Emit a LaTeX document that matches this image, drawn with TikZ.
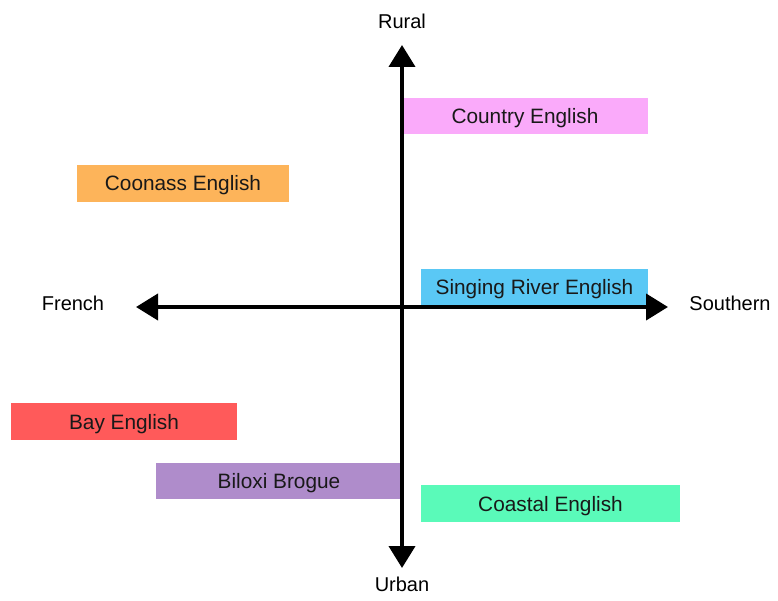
\documentclass[tikz,border=0pt]{standalone}
\usepackage{fontspec}
\setmainfont{Liberation Sans}
\usetikzlibrary{arrows.meta}
\definecolor{cpink}{RGB}{250,170,250}
\definecolor{corange}{RGB}{253,180,90}
\definecolor{cblue}{RGB}{90,200,245}
\definecolor{cred}{RGB}{255,90,90}
\definecolor{cpurple}{RGB}{175,140,203}
\definecolor{cgreen}{RGB}{90,250,185}
\definecolor{ink}{RGB}{25,25,25}
\tikzset{
  box/.style={fill=#1, draw=none, inner sep=0pt, text=ink,
    text height=15pt, text depth=0pt,
    font=\fontsize{20.8pt}{24pt}\selectfont},
  lbl/.style={inner sep=0pt, text=black, text height=14.5pt, text depth=0pt,
    font=\fontsize{20pt}{24pt}\selectfont},
  axis/.style={line width=4pt, black,
    {Triangle[width=26pt,length=22pt]}-{Triangle[width=26pt,length=22pt]}}
}
\begin{document}
\begin{tikzpicture}[x=1pt,y=-1pt]
\useasboundingbox (0,0) rectangle (778,601);
% boxes
\node[box=cpink, minimum width=246pt, minimum height=36pt] (country) at (525,116) {Country English};
\node[box=corange, minimum width=212pt, minimum height=37pt] (coonass) at (183,183.5) {Coonass English};
\node[box=cblue, minimum width=227pt, minimum height=36pt] (singing) at (534.5,287) {Singing River English};
\node[box=cred, minimum width=226pt, minimum height=37pt] (bay) at (124,421.5) {Bay English};
\node[box=cpurple, minimum width=246pt, minimum height=36pt] (biloxi) at (279,481) {Biloxi Brogue};
\node[box=cgreen, minimum width=259pt, minimum height=37pt] (coastal) at (550.5,503.5) {Coastal English};
% axis labels
\node[lbl] (rural) at (402,21) {Rural};
\node[lbl] (urban) at (402,584) {Urban};
\node[lbl] (french) at (73,303) {French};
\node[lbl] (southern) at (730,303) {Southern};
% axis ends
\coordinate (top) at (402,45);
\coordinate (bottom) at (402,568);
\coordinate (left) at (136,307);
\coordinate (right) at (668,307);
\draw[axis] (bottom) -- (top);
\draw[axis] (left) -- (right);
\end{tikzpicture}
\end{document}
